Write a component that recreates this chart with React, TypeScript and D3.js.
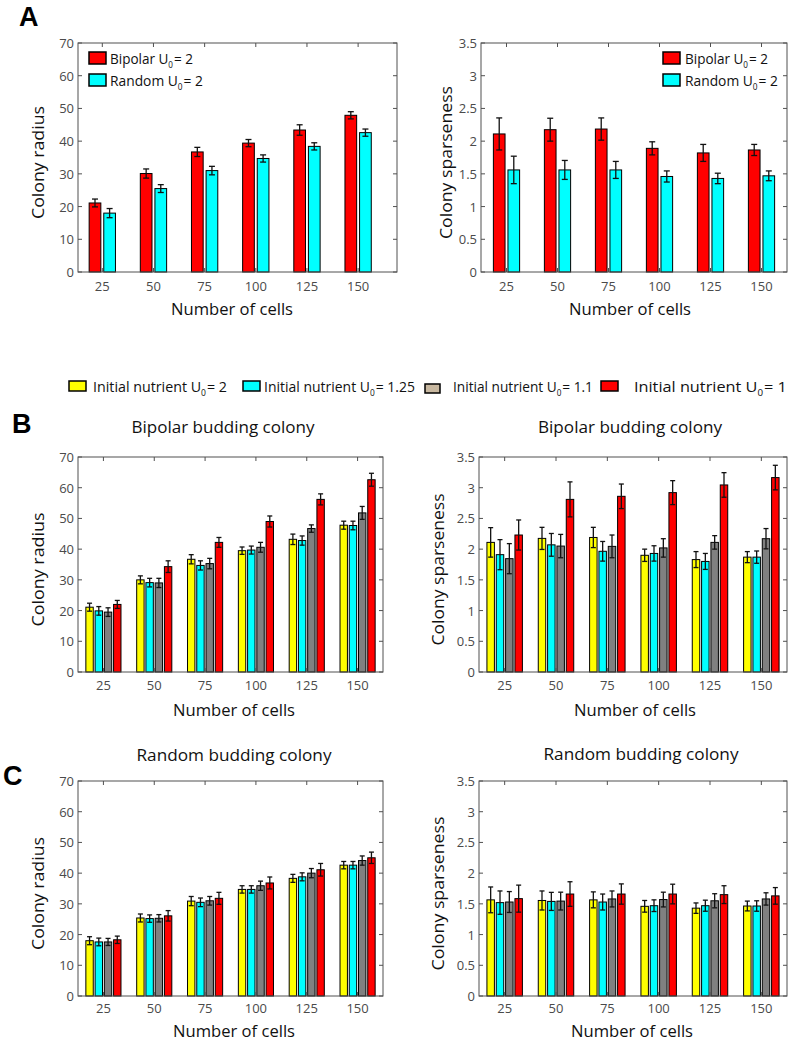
import React, { useEffect, useRef } from "react";
import * as d3 from "d3";

// ---------------- DATA ----------------
const cells = ["25", "50", "75", "100", "125", "150"];
const radiusTicks = [0, 10, 20, 30, 40, 50, 60, 70];
const sparseTicks = [0, 0.5, 1, 1.5, 2, 2.5, 3, 3.5];

// Panel A
const bipolarRadiusU2 = [21.1, 30.1, 36.7, 39.4, 43.4, 47.9];
const bipolarRadiusU2Err = [1.2, 1.4, 1.4, 1.1, 1.6, 1.1];
const randomRadiusU2 = [18.0, 25.5, 31.0, 34.7, 38.4, 42.6];
const randomRadiusU2Err = [1.4, 1.2, 1.3, 1.1, 1.1, 1.1];
const bipolarSparseU2 = [2.11, 2.175, 2.185, 1.89, 1.82, 1.865];
const bipolarSparseU2Err = [0.245, 0.175, 0.17, 0.1, 0.13, 0.085];
const randomSparseU2 = [1.56, 1.56, 1.56, 1.46, 1.43, 1.47];
const randomSparseU2Err = [0.21, 0.145, 0.13, 0.085, 0.08, 0.075];

// Panel B (bipolar budding)
const bRadU2 = [21.1, 30.0, 36.7, 39.5, 43.2, 47.8];
const bRadU2Err = [1.3, 1.3, 1.5, 1.2, 1.7, 1.3];
const bRadU125 = [19.9, 29.1, 34.7, 39.7, 42.8, 47.7];
const bRadU125Err = [1.4, 1.4, 1.5, 1.3, 1.5, 1.4];
const bRadU11 = [19.5, 29.0, 35.3, 40.6, 46.7, 51.8];
const bRadU11Err = [1.4, 1.5, 1.7, 1.6, 1.2, 2.1];
const bRadU1 = [22.0, 34.3, 42.2, 49.0, 56.2, 62.6];
const bRadU1Err = [1.3, 1.9, 1.6, 1.8, 1.8, 2.1];

const bSpU2 = [2.11, 2.175, 2.19, 1.9, 1.83, 1.87];
const bSpU2Err = [0.24, 0.18, 0.165, 0.1, 0.13, 0.09];
const bSpU125 = [1.91, 2.07, 1.965, 1.93, 1.8, 1.87];
const bSpU125Err = [0.245, 0.185, 0.16, 0.125, 0.13, 0.1];
const bSpU11 = [1.845, 2.05, 2.045, 2.02, 2.11, 2.17];
const bSpU11Err = [0.245, 0.19, 0.185, 0.15, 0.11, 0.165];
const bSpU1 = [2.23, 2.81, 2.86, 2.92, 3.045, 3.165];
const bSpU1Err = [0.245, 0.285, 0.2, 0.195, 0.2, 0.2];

// Panel C (random budding)
const cRadU2 = [18.0, 25.4, 30.9, 34.7, 38.3, 42.6];
const cRadU2Err = [1.3, 1.3, 1.5, 1.2, 1.3, 1.2];
const cRadU125 = [17.6, 25.2, 30.5, 34.7, 38.8, 42.6];
const cRadU125Err = [1.25, 1.2, 1.4, 1.2, 1.3, 1.2];
const cRadU11 = [17.6, 25.3, 31.0, 35.9, 40.0, 44.1];
const cRadU11Err = [1.15, 1.2, 1.4, 1.5, 1.5, 1.5];
const cRadU1 = [18.3, 26.1, 31.8, 36.8, 41.1, 45.0];
const cRadU1Err = [1.2, 1.7, 1.95, 1.95, 2.05, 1.85];

const cSpU2 = [1.565, 1.555, 1.565, 1.46, 1.43, 1.465];
const cSpU2Err = [0.21, 0.155, 0.13, 0.095, 0.085, 0.08];
const cSpU125 = [1.52, 1.54, 1.53, 1.47, 1.47, 1.465];
const cSpU125Err = [0.19, 0.147, 0.13, 0.095, 0.09, 0.085];
const cSpU11 = [1.53, 1.545, 1.58, 1.57, 1.55, 1.58];
const cSpU11Err = [0.17, 0.145, 0.13, 0.12, 0.115, 0.1];
const cSpU1 = [1.585, 1.66, 1.66, 1.66, 1.65, 1.63];
const cSpU1Err = [0.22, 0.2, 0.165, 0.16, 0.145, 0.135];

const nutrientLabels = ["2", "1.25", "1.1", "1"];

// ---------------- STYLE ----------------
const YELLOW = "#ffff00";
const CYAN = "#00ffff";
const GRAY = "#808080";
const RED = "#ff0000";
const LEGEND_GRAY = "#c8b8a0";
const FONT = "'Open Sans', 'DejaVu Sans', sans-serif";
const AXIS = "#505050";
const TICKTXT = "#4a4a4a";

type Series = { values: number[]; errors: number[]; color: string };
type Panel = {
  x0: number; x1: number; y0: number; y1: number;
  xDomain: [number, number];
  yMax: number; yTicks: number[];
  series: Series[];
  ylabel: string; ylabelX: number; ylabelLen: number;
  xlabelX: number; xlabelY: number;
  tickDy: number; cap: number;
  title?: string; titleX?: number; titleY?: number; titleLen?: number;
};

function drawPanel(svg: any, p: Panel) {
  const xs = d3.scaleLinear().domain(p.xDomain).range([p.x0, p.x1]);
  const ys = d3.scaleLinear().domain([0, p.yMax]).range([p.y1, p.y0]);
  const n = p.series.length;
  const gw = Math.min(0.8, n / (n + 1.5));
  const step = gw / n;
  const bw = step * 0.8;
  const g = svg.append("g");

  p.series.forEach((s, j) => {
    const off = -gw / 2 + (j + 0.5) * step;
    s.values.forEach((v, i) => {
      const c = i + 1 + off;
      g.append("rect")
        .attr("x", xs(c - bw / 2))
        .attr("y", ys(v))
        .attr("width", xs(c + bw / 2) - xs(c - bw / 2))
        .attr("height", ys(0) - ys(v))
        .attr("fill", s.color)
        .attr("stroke", "#000")
        .attr("stroke-width", 1);
    });
  });
  p.series.forEach((s, j) => {
    const off = -gw / 2 + (j + 0.5) * step;
    s.values.forEach((v, i) => {
      const cx = xs(i + 1 + off);
      const e = s.errors[i];
      const lo = ys(v - e), hi = ys(v + e);
      const eg = g.append("g").attr("stroke", "#111").attr("stroke-width", 1.3);
      eg.append("line").attr("x1", cx).attr("x2", cx).attr("y1", lo).attr("y2", hi);
      eg.append("line").attr("x1", cx - p.cap).attr("x2", cx + p.cap).attr("y1", lo).attr("y2", lo);
      eg.append("line").attr("x1", cx - p.cap).attr("x2", cx + p.cap).attr("y1", hi).attr("y2", hi);
    });
  });

  // box
  g.append("rect")
    .attr("x", p.x0).attr("y", p.y0)
    .attr("width", p.x1 - p.x0).attr("height", p.y1 - p.y0)
    .attr("fill", "none").attr("stroke", AXIS).attr("stroke-width", 1);

  // ticks
  const tl = 4;
  p.yTicks.forEach((t) => {
    const y = ys(t);
    g.append("line").attr("x1", p.x0).attr("x2", p.x0 + tl).attr("y1", y).attr("y2", y).attr("stroke", AXIS);
    g.append("line").attr("x1", p.x1).attr("x2", p.x1 - tl).attr("y1", y).attr("y2", y).attr("stroke", AXIS);
    g.append("text")
      .attr("x", p.x0 - 4).attr("y", y)
      .attr("text-anchor", "end").attr("dominant-baseline", "central")
      .attr("font-family", FONT).attr("font-size", 13).attr("fill", TICKTXT)
      .text(String(t));
  });
  cells.forEach((c, i) => {
    const x = xs(i + 1);
    g.append("line").attr("x1", x).attr("x2", x).attr("y1", p.y1).attr("y2", p.y1 - tl).attr("stroke", AXIS);
    g.append("line").attr("x1", x).attr("x2", x).attr("y1", p.y0).attr("y2", p.y0 + tl).attr("stroke", AXIS);
    g.append("text")
      .attr("x", x).attr("y", p.y1 + p.tickDy)
      .attr("text-anchor", "middle")
      .attr("font-family", FONT).attr("font-size", 13).attr("fill", TICKTXT)
      .text(c);
  });

  // axis labels
  g.append("text")
    .attr("transform", `translate(${p.ylabelX},${(p.y0 + p.y1) / 2 + 5}) rotate(-90)`)
    .attr("text-anchor", "middle")
    .attr("font-family", FONT).attr("font-size", 17).attr("fill", "#111")
    .attr("textLength", p.ylabelLen).attr("lengthAdjust", "spacingAndGlyphs")
    .text(p.ylabel);
  g.append("text")
    .attr("x", p.xlabelX).attr("y", p.xlabelY)
    .attr("text-anchor", "middle")
    .attr("font-family", FONT).attr("font-size", 17).attr("fill", "#111")
    .attr("textLength", 122).attr("lengthAdjust", "spacingAndGlyphs")
    .text("Number of cells");
  if (p.title) {
    g.append("text")
      .attr("x", p.titleX).attr("y", p.titleY)
      .attr("text-anchor", "middle")
      .attr("font-family", FONT).attr("font-size", 17).attr("fill", "#111")
      .attr("textLength", p.titleLen).attr("lengthAdjust", "spacingAndGlyphs")
      .text(p.title);
  }
}

function subLabel(svg: any, x: number, baseline: number, main: string, sub: string, rest: string, fs: number, target: number) {
  const grp = svg.append("g");
  const t = grp.append("text")
    .attr("x", 0).attr("y", 0)
    .attr("font-family", FONT).attr("font-size", fs).attr("fill", "#111");
  t.append("tspan").text(main);
  t.append("tspan").attr("font-size", fs * 0.6).attr("dy", 4).text(sub);
  t.append("tspan").attr("dy", -4).attr("dx", 1).text(rest);
  let w = target;
  try { w = (t.node() as SVGTextElement).getBBox().width || target; } catch (e) { }
  grp.attr("transform", `translate(${x},${baseline}) scale(${target / w},1)`);
}

function patch(svg: any, x: number, y: number, w: number, h: number, color: string) {
  svg.append("rect").attr("x", x).attr("y", y).attr("width", w).attr("height", h)
    .attr("fill", color).attr("stroke", "#000").attr("stroke-width", 1.5);
}

function panelLetter(svg: any, x: number, y: number, s: string) {
  svg.append("text").attr("x", x).attr("y", y)
    .attr("font-family", "'Liberation Sans', Arial, sans-serif")
    .attr("font-weight", "bold").attr("font-size", 27).attr("fill", "#000").text(s);
}

export default function App() {
  const ref = useRef<SVGSVGElement>(null);
  useEffect(() => {
    const svg = d3.select(ref.current);
    svg.selectAll("*").remove();
    svg.append("rect").attr("width", 790).attr("height", 1043).attr("fill", "#fff");

    const four = (v: number[][], e: number[][]): Series[] =>
      [YELLOW, CYAN, GRAY, RED].map((c, k) => ({ values: v[k], errors: e[k], color: c }));

    const panels: Panel[] = [
      {
        x0: 78, x1: 397, y0: 43, y1: 272, xDomain: [0.525, 6.76], yMax: 70, yTicks: radiusTicks,
        series: [
          { values: bipolarRadiusU2, errors: bipolarRadiusU2Err, color: RED },
          { values: randomRadiusU2, errors: randomRadiusU2Err, color: CYAN },
        ],
        ylabel: "Colony radius", ylabelX: 44, ylabelLen: 113, xlabelX: 232, xlabelY: 315, tickDy: 19, cap: 3,
      },
      {
        x0: 481, x1: 787, y0: 43, y1: 272, xDomain: [0.5, 6.5], yMax: 3.5, yTicks: sparseTicks,
        series: [
          { values: bipolarSparseU2, errors: bipolarSparseU2Err, color: RED },
          { values: randomSparseU2, errors: randomSparseU2Err, color: CYAN },
        ],
        ylabel: "Colony sparseness", ylabelX: 452, ylabelLen: 153, xlabelX: 630, xlabelY: 315, tickDy: 19, cap: 3,
      },
      {
        x0: 78, x1: 383, y0: 457, y1: 672, xDomain: [0.5, 6.5], yMax: 70, yTicks: radiusTicks,
        series: four([bRadU2, bRadU125, bRadU11, bRadU1], [bRadU2Err, bRadU125Err, bRadU11Err, bRadU1Err]),
        ylabel: "Colony radius", ylabelX: 44, ylabelLen: 114, xlabelX: 234, xlabelY: 716, tickDy: 18, cap: 2.5,
        title: "Bipolar budding colony", titleX: 223, titleY: 433, titleLen: 183,
      },
      {
        x0: 479, x1: 787, y0: 457, y1: 672, xDomain: [0.5, 6.5], yMax: 3.5, yTicks: sparseTicks,
        series: four([bSpU2, bSpU125, bSpU11, bSpU1], [bSpU2Err, bSpU125Err, bSpU11Err, bSpU1Err]),
        ylabel: "Colony sparseness", ylabelX: 444, ylabelLen: 152, xlabelX: 635, xlabelY: 716, tickDy: 18, cap: 2.5,
        title: "Bipolar budding colony", titleX: 630, titleY: 433, titleLen: 184,
      },
      {
        x0: 78, x1: 383, y0: 781, y1: 996, xDomain: [0.5, 6.5], yMax: 70, yTicks: radiusTicks,
        series: four([cRadU2, cRadU125, cRadU11, cRadU1], [cRadU2Err, cRadU125Err, cRadU11Err, cRadU1Err]),
        ylabel: "Colony radius", ylabelX: 44, ylabelLen: 113, xlabelX: 234, xlabelY: 1037, tickDy: 17, cap: 2.5,
        title: "Random budding colony", titleX: 234, titleY: 761, titleLen: 195,
      },
      {
        x0: 479, x1: 787, y0: 781, y1: 996, xDomain: [0.5, 6.5], yMax: 3.5, yTicks: sparseTicks,
        series: four([cSpU2, cSpU125, cSpU11, cSpU1], [cSpU2Err, cSpU125Err, cSpU11Err, cSpU1Err]),
        ylabel: "Colony sparseness", ylabelX: 444, ylabelLen: 154, xlabelX: 632, xlabelY: 1037, tickDy: 17, cap: 2.5,
        title: "Random budding colony", titleX: 641, titleY: 760, titleLen: 195,
      },
    ];
    panels.forEach((p) => drawPanel(svg, p));

    // Panel A legends
    patch(svg, 89, 52, 17, 12, RED);
    subLabel(svg, 110, 64, "Bipolar U", "0", "= 2", 15, 83);
    patch(svg, 89, 74, 17, 12, CYAN);
    subLabel(svg, 110, 86, "Random U", "0", "= 2", 15, 93);
    patch(svg, 663, 52, 17, 12, RED);
    subLabel(svg, 685, 64, "Bipolar U", "0", "= 2", 15, 83);
    patch(svg, 663, 74, 17, 12, CYAN);
    subLabel(svg, 685, 86, "Random U", "0", "= 2", 15, 93);

    // Shared legend for B & C
    const legendPatches = [
      { x: 69, y: 381, w: 17, h: 10, c: YELLOW, tx: 93, tw: 134 },
      { x: 243, y: 381, w: 17, h: 10, c: CYAN, tx: 264, tw: 151 },
      { x: 425, y: 384, w: 15, h: 9, c: LEGEND_GRAY, tx: 453, tw: 140 },
      { x: 601, y: 381, w: 17, h: 10, c: RED, tx: 634, tw: 153 },
    ];
    legendPatches.forEach((l, k) => {
      patch(svg, l.x, l.y, l.w, l.h, l.c);
      subLabel(svg, l.tx, 392, "Initial nutrient U", "0", "= " + nutrientLabels[k], 15, l.tw);
    });

    panelLetter(svg, 19, 26, "A");
    panelLetter(svg, 12, 433, "B");
    panelLetter(svg, 3, 785, "C");
  }, []);

  return (
    <svg
      ref={ref}
      width={790}
      height={1043}
      style={{ position: "absolute", left: 0, top: 0, display: "block" }}
    />
  );
}
